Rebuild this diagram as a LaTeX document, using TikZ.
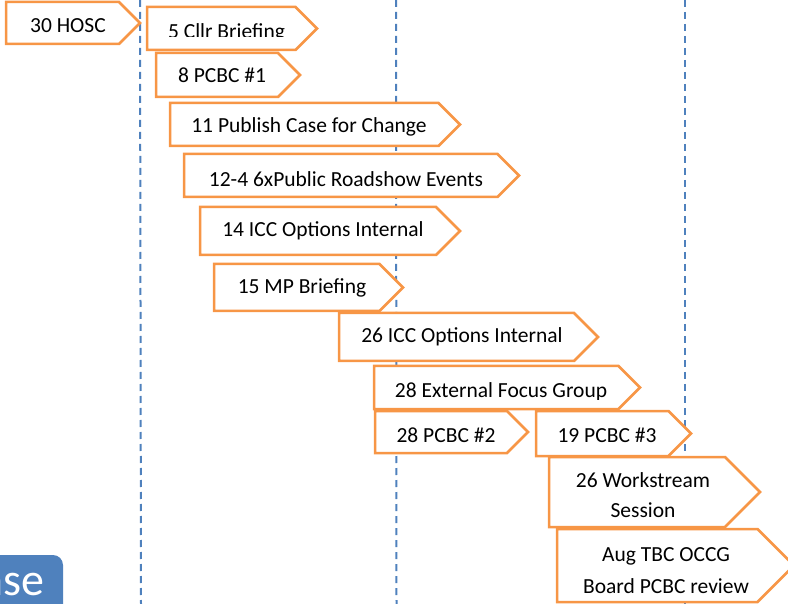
\documentclass[tikz,border=0pt]{standalone}
\usepackage{fontspec}
\setmainfont{Carlito}
\definecolor{boxorange}{HTML}{F79646}
\definecolor{lineblue}{HTML}{4F81BD}
\definecolor{phaseblue}{HTML}{4F81BD}
\tikzset{
  boxline/.style={draw=boxorange, line width=2.5pt, fill=white, line join=miter},
  guide/.style={draw=lineblue, line width=2pt, dash pattern=on 7pt off 5pt},
  lbl/.style={font=\fontsize{21.5}{30}\selectfont, text=black, anchor=base, inner sep=0pt, align=center},
}
% #1 left, #2 top, #3 bottom, #4 tip x
\newcommand\abox[4]{%
  \draw[boxline] (#1,#2) -- ({#4-(#3-#2)/2},#2) -- (#4,{(#2+#3)/2})
     -- ({#4-(#3-#2)/2},#3) -- (#1,#3) -- cycle;}
\begin{document}
\begin{tikzpicture}[x=1pt,y=-1pt]
\useasboundingbox (0,0) rectangle (788,604);
\begin{scope}
\clip (0,0) rectangle (788,604);
% guide lines
\draw[guide] (140,0) -- (141,604);
\draw[guide] (396,0) -- (396.5,604);
\draw[guide] (685,0) -- (685,604);
% phase tab
\fill[phaseblue, rounded corners=10pt] (-30,555) rectangle (63,640);
\node[anchor=base east, inner sep=0pt, text=white, font=\fontsize{46}{50}\selectfont] (phase) at (45,595) {ase};
% boxes
\abox{6}{2}{44}{140}
\node[lbl] (hosc) at (68,33) {30 HOSC};
\abox{147}{7}{50}{317}
\begin{scope}
\clip (147,7) rectangle (317,37);
\node[lbl] (cllr) at (226.5,38.5) {5 Cllr Briefing};
\end{scope}
\abox{156}{53}{97}{300}
\node[lbl] (pcbca) at (222,83) {8 PCBC \#1};
\abox{170}{103}{146}{460}
\begin{scope}
\clip (170,103) rectangle (460,135.5);
\node[lbl] (publish) at (309,133) {11 Publish Case for Change};
\end{scope}
\abox{184}{154}{197}{519}
\node[lbl] (roadshow) at (346,187) {12-4 6xPublic Roadshow Events};
\abox{200}{207}{255}{460}
\node[lbl] (icca) at (323,237) {14 ICC Options Internal};
\abox{214}{264}{311}{403}
\node[lbl] (mp) at (302,294) {15 MP Briefing};
\abox{339}{313}{361}{598}
\node[lbl] (iccb) at (462,343) {26 ICC Options Internal};
\abox{374}{366}{409}{640}
\begin{scope}
\clip (374,366) rectangle (640,399);
\node[lbl] (focus) at (501,397) {28 External Focus Group};
\end{scope}
\abox{375}{411}{453}{528}
\node[lbl] (pcbcb) at (446,442) {28 PCBC \#2};
\abox{536}{411}{456}{691}
\node[lbl] (pcbcc) at (607,442) {19 PCBC \#3};
\abox{549}{457}{527}{760}
\node[lbl] (work) at (643,517) {26 Workstream\\Session};
\abox{557}{529}{602}{794}
\node[lbl, font=\fontsize{21.5}{32}\selectfont] (occg) at (666,593) {Aug TBC OCCG\\Board PCBC review};
\end{scope}
\end{tikzpicture}
\end{document}
